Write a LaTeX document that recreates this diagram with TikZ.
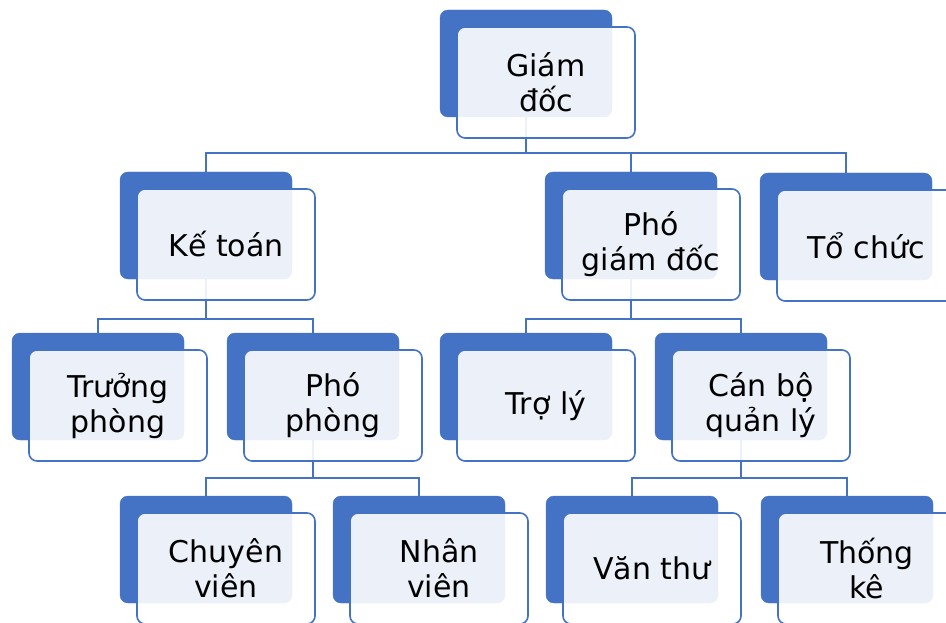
\documentclass[tikz,border=0pt]{standalone}
\usepackage{fontspec}
\setmainfont{DejaVu Sans}
\definecolor{obl}{HTML}{4472C4}
\tikzset{
  backbox/.style={draw=obl,fill=obl,rounded corners=8pt,minimum width=172pt,minimum height=107pt,inner sep=0pt},
  frontbox/.style={draw=obl,line width=1.6pt,fill=white,fill opacity=0.9,text opacity=1,rounded corners=8pt,minimum width=178pt,minimum height=111pt,inner sep=0pt,align=center,font=\fontsize{30}{35}\selectfont,text=black},
  link/.style={draw=obl,line width=2.2pt}
}
\newcommand{\orgbox}[4]{%
  \node[backbox] (#1) at (#2,#3) {};
  \node[frontbox] (#1f) at (#2+20,#3+19) {#4};
}
\begin{document}
\begin{tikzpicture}[x=1pt,y=-1pt]
\useasboundingbox (0,0) rectangle (946,623);
\coordinate (b1) at (0,153);
\coordinate (b2) at (0,319);
\coordinate (b3) at (0,478);
% anchor nodes (back box outlines) for the connectors
\begin{scope}[every node/.style={backbox,draw=none,fill=none}]
\node (gd) at (526,63.5) {};
\node (kt) at (206,225.5) {};
\node (pgd) at (631,225.5) {};
\node (tc) at (846,226.5) {};
\node (tp) at (98,386.5) {};
\node (pp) at (313,386.5) {};
\node (tl) at (526,386.5) {};
\node (cb) at (741,386.5) {};
\node (cv) at (206,549.5) {};
\node (nv) at (419,549.5) {};
\node (vt) at (632,549.5) {};
\node (tk) at (847,549.5) {};
\end{scope}
% connectors
\draw[link] (gd.south) -- (gd.south |- b1) -| (kt.north);
\draw[link] (gd.south |- b1) -| (pgd.north);
\draw[link] (gd.south |- b1) -| (tc.north);
\draw[link] (kt.south) -- (kt.south |- b2) -| (tp.north);
\draw[link] (kt.south |- b2) -| (pp.north);
\draw[link] (pgd.south) -- (pgd.south |- b2) -| (tl.north);
\draw[link] (pgd.south |- b2) -| (cb.north);
\draw[link] (pp.south) -- (pp.south |- b3) -| (cv.north);
\draw[link] (pp.south |- b3) -| (nv.north);
\draw[link] (cb.south) -- (cb.south |- b3) -| (vt.north);
\draw[link] (cb.south |- b3) -| (tk.north);
% boxes
\orgbox{gdb}{526}{63.5}{Giám\\đốc}
\orgbox{ktb}{206}{225.5}{Kế toán}
\orgbox{pgdb}{631}{225.5}{Phó\\giám đốc}
\orgbox{tcb}{846}{226.5}{Tổ chức}
\orgbox{tpb}{98}{386.5}{Trưởng\\phòng}
\orgbox{ppb}{313}{386.5}{Phó\\phòng}
\orgbox{tlb}{526}{386.5}{Trợ lý}
\orgbox{cbb}{741}{386.5}{Cán bộ\\quản lý}
\orgbox{cvb}{206}{549.5}{Chuyên\\viên}
\orgbox{nvb}{419}{549.5}{Nhân\\viên}
\orgbox{vtb}{632}{549.5}{Văn thư}
\orgbox{tkb}{847}{549.5}{Thống\\kê}
\end{tikzpicture}
\end{document}
